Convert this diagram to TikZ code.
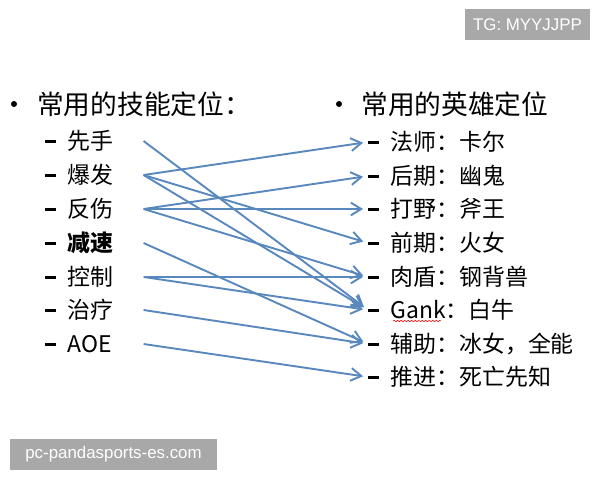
\documentclass[tikz,border=0pt]{standalone}
\usepackage{fontspec}
\setmainfont{Noto Sans CJK SC}
\newfontfamily\marquefont{Liberation Sans}
\usetikzlibrary{arrows.meta,decorations.pathmorphing}
\definecolor{bleulien}{RGB}{88,136,190}
\definecolor{grismarque}{RGB}{168,168,168}
\newcommand{\tiret}{\raisebox{0.3em}{\rule{0.47em}{0.12em}}\hspace{0.5em}}

\begin{document}
\begin{tikzpicture}[x=0.025cm,y=-0.025cm]
\tikzset{titre/.style={anchor=west, inner sep=0, font=\fontsize{19}{21}\selectfont},
  puce/.style={circle, fill=black, inner sep=0, minimum size=0.15cm},
  element/.style={anchor=west, inner sep=0, font=\fontsize{16.3}{18}\selectfont},
  gauche/.style={element, text width=2.45cm, align=left},
  lien/.style={draw=bleulien, line width=1.35pt, shorten >=0.125cm, -{Straight Barb[length=2.6mm,width=3.2mm]}},
  marque/.style={fill=grismarque, text=white, inner sep=0, minimum height=0.75cm, font=\marquefont\fontsize{12}{14}\selectfont}}
\useasboundingbox[fill=white] (0,0) rectangle (600,480);
\node[puce] (P1) at (14,104) {};
\node[titre] (T1) at (37,104) {常用的技能定位：};
\node[puce] (P2) at (339,104) {};
\node[titre] (T2) at (361,104) {常用的英雄定位};
\node[gauche] (S1) at (45,141) {\tiret 先手};
\node[gauche] (S2) at (45,175) {\tiret 爆发};
\node[gauche] (S3) at (45,209) {\tiret 反伤};
\node[gauche] (S4) at (45,243) {\tiret \textbf{减速}};
\node[gauche] (S5) at (45,277) {\tiret 控制};
\node[gauche] (S6) at (45,310) {\tiret 治疗};
\node[gauche] (S7) at (45,344) {\tiret AOE};
\node[element] (H1) at (368,142) {\tiret 法师：卡尔};
\node[element] (H2) at (368,176) {\tiret 后期：幽鬼};
\node[element] (H3) at (368,209) {\tiret 打野：斧王};
\node[element] (H4) at (368,243) {\tiret 前期：火女};
\node[element] (H5) at (368,277) {\tiret 肉盾：钢背兽};
\node[element] (H6) at (368,310) {\tiret Gank：白牛};
\node[element] (H7) at (368,344) {\tiret 辅助：冰女，全能};
\node[element] (H8) at (368,377) {\tiret 推进：死亡先知};
\draw[red, line width=0.4pt, decorate, decoration={snake, amplitude=0.5pt, segment length=2.5pt}] (393,321) -- (441,321);
\draw[lien] (S1.east) -- (H6.west);
\draw[lien] (S2.east) -- (H1.west);
\draw[lien] (S2.east) -- (H4.west);
\draw[lien] (S2.east) -- (H6.west);
\draw[lien] (S3.east) -- (H2.west);
\draw[lien] (S3.east) -- (H3.west);
\draw[lien] (S3.east) -- (H5.west);
\draw[lien] (S4.east) -- (H7.west);
\draw[lien] (S5.east) -- (H5.west);
\draw[lien] (S5.east) -- (H6.west);
\draw[lien] (S6.east) -- (H7.west);
\draw[lien] (S7.east) -- (H8.west);
\node[marque, minimum width=3.125cm] (M1) at (527.5,24.5) {TG: MYYJJPP};
\node[marque, minimum width=5.175cm] (M2) at (113.5,454.5) {pc-pandasports-es.com};
\end{tikzpicture}
\end{document}
